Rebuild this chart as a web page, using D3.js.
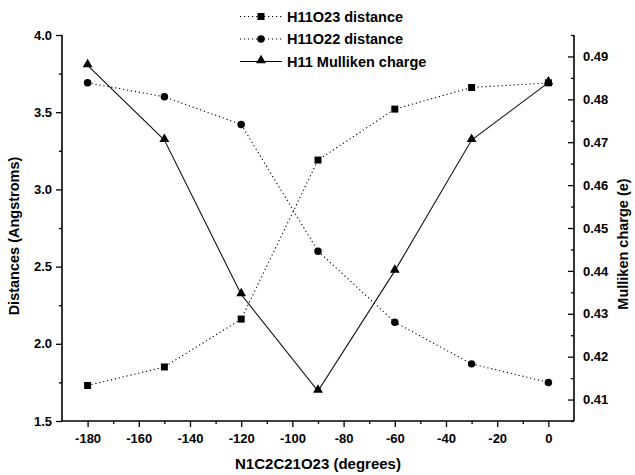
<!DOCTYPE html>
<html>
<head>
<meta charset="utf-8">
<script src="https://cdn.jsdelivr.net/npm/d3@7"></script>
<style>
  html, body { margin: 0; padding: 0; background: #fff; }
  svg { display: block; }
  text { font-family: "Liberation Sans", Arial, Helvetica, sans-serif; font-weight: bold; fill: #000; }
</style>
</head>
<body>
<script>
// ---- data ----
const angles = [-180, -150, -120, -90, -60, -30, 0];
const h11o23Distance = [1.73, 1.85, 2.16, 3.19, 3.52, 3.66, 3.69];
const h11o22Distance = [3.69, 3.60, 3.42, 2.60, 2.14, 1.87, 1.75];
const h11Charge = [0.4879, 0.4705, 0.4345, 0.4120, 0.4400, 0.4705, 0.4839];

const xTicks = [-180, -160, -140, -120, -100, -80, -60, -40, -20, 0];
const xMinor = [-170, -150, -130, -110, -90, -70, -50, -30, -10];
const yLeftTicks = [1.5, 2.0, 2.5, 3.0, 3.5, 4.0];
const yLeftMinor = [1.75, 2.25, 2.75, 3.25, 3.75];
const yRightTicks = [0.41, 0.42, 0.43, 0.44, 0.45, 0.46, 0.47, 0.48, 0.49];
const yRightMinor = [0.405, 0.415, 0.425, 0.435, 0.445, 0.455, 0.465, 0.475, 0.485, 0.495];

const seriesNames = ["H11O23 distance", "H11O22 distance", "H11 Mulliken charge"];
const xTitle = "N1C2C21O23 (degrees)";
const yLeftTitle = "Distances (Angstroms)";
const yRightTitle = "Mulliken charge (e)";

// ---- layout ----
const W = 635, H = 475;
const L = 62, R = 574, T = 35, B = 421;

const svg = d3.select("body").append("svg").attr("width", W).attr("height", H);

const x = d3.scaleLinear().domain([-190, 10]).range([L, R]);
const yL = d3.scaleLinear().domain([1.5, 4.0]).range([B, T]);
const yR = d3.scaleLinear().domain([0.405, 0.495]).range([B, T]);

function styleAxis(g) {
  g.select(".domain").remove();
  g.selectAll(".tick line").attr("stroke", "#000").attr("stroke-width", 1.3);
  g.selectAll(".tick text").style("font-size", "13px").style("font-weight", "bold").attr("fill", "#000");
}

// bottom axis (hyphen minus, as in the reference)
svg.append("g").attr("transform", `translate(0,${B})`)
  .call(d3.axisBottom(x).tickValues(xTicks).tickSize(6).tickPadding(7).tickFormat(d => String(d)))
  .call(styleAxis);
svg.append("g").attr("transform", `translate(0,${B})`)
  .call(d3.axisBottom(x).tickValues(xMinor).tickSize(3).tickFormat(""))
  .call(styleAxis);

// left axis
svg.append("g").attr("transform", `translate(${L},0)`)
  .call(d3.axisLeft(yL).tickValues(yLeftTicks).tickSize(6).tickPadding(4).tickFormat(d => d.toFixed(1)))
  .call(styleAxis);
svg.append("g").attr("transform", `translate(${L},0)`)
  .call(d3.axisLeft(yL).tickValues(yLeftMinor).tickSize(3).tickFormat(""))
  .call(styleAxis);

// right axis (ticks pointing inward, labels outside)
const gR = svg.append("g").attr("transform", `translate(${R},0)`)
  .call(d3.axisRight(yR).tickValues(yRightTicks).tickSize(6).tickPadding(8).tickFormat(d => d.toFixed(2)))
  .call(styleAxis);
gR.selectAll(".tick line").attr("x2", -6);
gR.selectAll(".tick text").attr("x", 9);
const gRm = svg.append("g").attr("transform", `translate(${R},0)`)
  .call(d3.axisRight(yR).tickValues(yRightMinor).tickSize(3).tickFormat(""))
  .call(styleAxis);
gRm.selectAll(".tick line").attr("x2", -3);

// axis lines
svg.append("line").attr("x1", L).attr("x2", L).attr("y1", T).attr("y2", B).attr("stroke", "#000").attr("stroke-width", 1.6);
svg.append("line").attr("x1", R).attr("x2", R).attr("y1", T).attr("y2", B).attr("stroke", "#000").attr("stroke-width", 1.6);
svg.append("line").attr("x1", L).attr("x2", R).attr("y1", B).attr("y2", B).attr("stroke", "#000").attr("stroke-width", 1.6);

// titles
svg.append("text").attr("x", (L + R) / 2).attr("y", 469).attr("text-anchor", "middle")
  .style("font-size", "15px").text(xTitle);
svg.append("text").attr("transform", `translate(19,${236}) rotate(-90)`).attr("text-anchor", "middle")
  .style("font-size", "14.5px").text(yLeftTitle);
svg.append("text").attr("transform", `translate(628,${244}) rotate(-90)`).attr("text-anchor", "middle")
  .style("font-size", "14.5px").text(yRightTitle);

// lines
const lineL = d3.line().x((d, i) => x(angles[i])).y(d => yL(d));
const lineR = d3.line().x((d, i) => x(angles[i])).y(d => yR(d));

svg.append("path").datum(h11o23Distance).attr("d", lineL).attr("fill", "none")
  .attr("stroke", "#000").attr("stroke-width", 1.1).attr("stroke-dasharray", "1.2,2.8");
svg.append("path").datum(h11o22Distance).attr("d", lineL).attr("fill", "none")
  .attr("stroke", "#000").attr("stroke-width", 1.1).attr("stroke-dasharray", "1.2,2.8");
svg.append("path").datum(h11Charge).attr("d", lineR).attr("fill", "none")
  .attr("stroke", "#111").attr("stroke-width", 1.1);

// markers
const sq = d3.symbol().type(d3.symbolSquare).size(49);
const ci = d3.symbol().type(d3.symbolCircle).size(44);
const tri = d3.symbol().type(d3.symbolTriangle).size(42);

svg.append("g").selectAll("path").data(h11o23Distance).join("path")
  .attr("d", sq).attr("transform", (d, i) => `translate(${x(angles[i])},${yL(d)})`).attr("fill", "#000");
svg.append("g").selectAll("path").data(h11o22Distance).join("path")
  .attr("d", ci).attr("transform", (d, i) => `translate(${x(angles[i])},${yL(d)})`).attr("fill", "#000");
svg.append("g").selectAll("path").data(h11Charge).join("path")
  .attr("d", tri).attr("transform", (d, i) => `translate(${x(angles[i])},${yR(d) - 1})`).attr("fill", "#000");

// legend
const legY = [16.5, 39, 61.5];
const symbols = [sq, ci, tri];
const dashes = ["1.2,2.8", "1.2,2.8", null];
const lg = svg.append("g");
seriesNames.forEach((name, i) => {
  const ln = lg.append("line").attr("x1", 240).attr("x2", 282).attr("y1", legY[i]).attr("y2", legY[i])
    .attr("stroke", "#000").attr("stroke-width", 1.1);
  if (dashes[i]) ln.attr("stroke-dasharray", dashes[i]);
  lg.append("path").attr("d", symbols[i]).attr("transform", `translate(261,${legY[i] - (i === 2 ? 1 : 0)})`).attr("fill", "#000");
  lg.append("text").attr("x", 287).attr("y", legY[i]).attr("dy", "0.36em")
    .style("font-size", "14.5px").text(name);
});
</script>
</body>
</html>
